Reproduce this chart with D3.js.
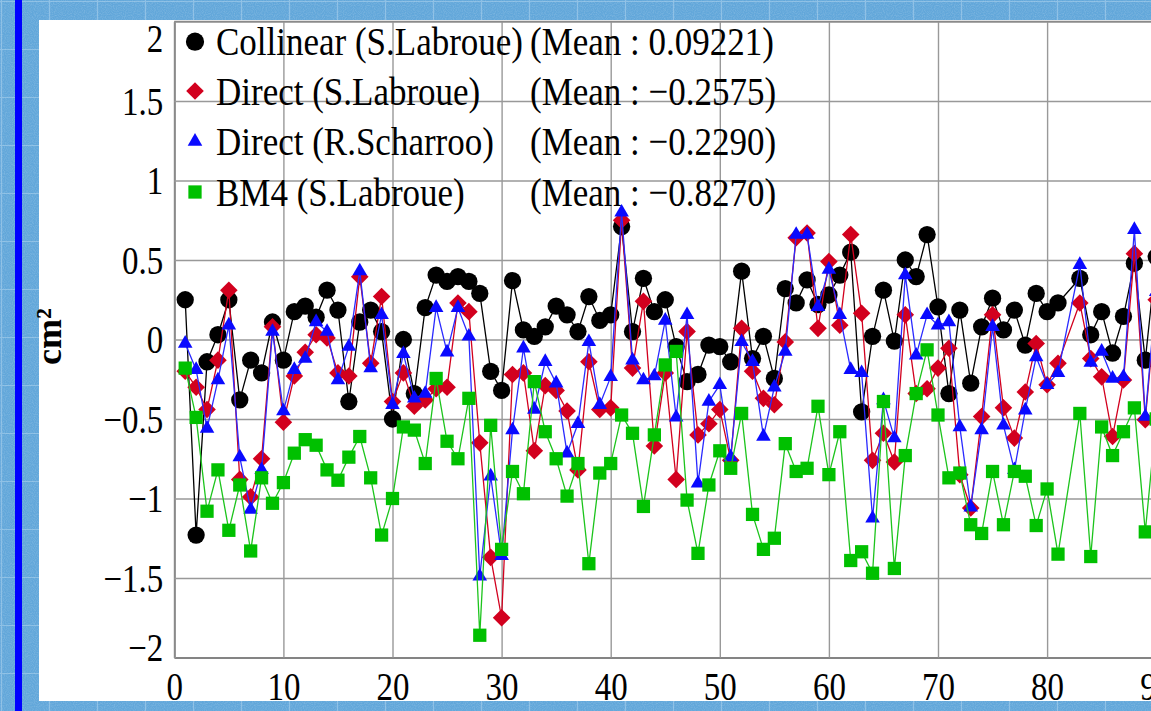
<!DOCTYPE html>
<html>
<head>
<meta charset="utf-8">
<script src="https://cdn.jsdelivr.net/npm/d3@7"></script>
<style>
    html, body { margin: 0; padding: 0; overflow: hidden; background: #62a6d8; }
    svg { display: block; }
</style>
</head>
<body>
<div id="vis"></div>
<script>
// cycle numbers (82 is missing in every series)
const days = [1,2,3,4,5,6,7,8,9,10,11,12,13,14,15,16,17,18,19,20,
    21,22,23,24,25,26,27,28,29,30,31,32,33,34,35,36,37,38,39,40,
    41,42,43,44,45,46,47,48,49,50,51,52,53,54,55,56,57,58,59,60,
    61,62,63,64,65,66,67,68,69,70,71,72,73,74,75,76,77,78,79,80,81,
    83,84,85,86,87,88,89,90];

const collinear = [0.25,-1.23,-0.14,0.03,0.25,-0.38,-0.13,-0.21,0.11,-0.13,
    0.175,0.21,0.14,0.31,0.185,-0.39,0.11,0.185,0.05,-0.5,
    0.0,-0.34,0.2,0.405,0.365,0.395,0.365,0.29,-0.2,-0.32,
    0.37,0.06,0.02,0.08,0.21,0.155,0.05,0.27,0.12,0.155,
    0.71,0.05,0.385,0.175,0.25,-0.045,-0.265,-0.22,-0.035,-0.045,
    -0.14,0.43,-0.12,0.02,-0.245,0.32,0.23,0.375,0.22,0.28,
    0.405,0.55,-0.455,0.02,0.31,-0.01,0.5,0.395,0.66,0.205,
    -0.34,0.185,-0.275,0.08,0.26,0.06,0.185,-0.035,0.29,0.175,0.23,
    0.385,0.03,0.175,-0.085,0.145,0.48,-0.13,0.52];

const directLabroue = [-0.2,-0.3,-0.44,-0.13,0.31,-0.88,-0.99,-0.75,0.08,-0.52,
    -0.23,-0.08,0.03,0.01,-0.21,-0.23,0.395,-0.15,0.27,-0.39,
    -0.21,-0.42,-0.38,-0.31,-0.3,0.23,0.175,-0.65,-1.37,-1.75,
    -0.22,-0.21,-0.7,-0.29,-0.32,-0.45,-0.82,-0.14,-0.44,-0.43,
    0.75,-0.18,0.24,-0.67,-0.21,-0.88,0.05,-0.6,-0.53,-0.44,
    -0.76,0.07,-0.2,-0.37,-0.41,-0.015,0.64,0.67,0.07,0.49,
    0.09,0.66,0.165,-0.76,-0.59,-0.77,0.155,-0.34,-0.31,-0.18,
    -0.055,-0.85,-1.06,-0.485,0.155,-0.43,-0.62,-0.33,-0.025,-0.285,-0.15,
    0.23,-0.12,-0.235,-0.61,-0.255,0.54,-0.505,0.25];

const directScharroo = [-0.025,-0.19,-0.56,-0.255,0.09,-0.74,-1.07,-0.82,0.05,-0.45,
    -0.19,-0.12,0.11,0.05,-0.255,-0.045,0.43,-0.18,0.155,-0.41,
    -0.09,-0.37,-0.34,0.2,-0.08,0.2,0.02,-1.49,-0.86,-1.36,
    -0.57,-0.055,-0.44,-0.14,-0.275,-0.715,-0.53,-0.015,-0.41,-0.235,
    0.8,-0.13,-0.255,-0.23,0.12,-0.49,0.155,-0.905,-0.39,-0.285,
    -0.74,-0.015,-0.14,-0.61,-0.3,-0.075,0.66,0.66,0.205,0.44,
    0.155,-0.19,-0.21,-1.125,-0.38,-0.62,0.405,-0.1,0.155,0.09,
    0.11,-0.55,-1.055,-0.57,0.08,-0.54,-0.82,-0.445,-0.11,-0.285,-0.21,
    0.47,-0.145,-0.075,-0.245,-0.235,0.69,-0.485,0.3];

const bm4 = [-0.18,-0.49,-1.08,-0.82,-1.2,-0.915,-1.33,-0.87,-1.03,-0.9,
    -0.715,-0.63,-0.665,-0.82,-0.885,-0.74,-0.61,-0.87,-1.23,-1.0,
    -0.55,-0.57,-0.78,-0.245,-0.64,-0.75,-0.37,-1.86,-0.54,-1.32,
    -0.83,-0.97,-0.265,-0.58,-0.75,-0.985,-0.78,-1.41,-0.84,-0.78,
    -0.475,-0.59,-1.05,-0.6,-0.16,-0.075,-1.01,-1.345,-0.915,-0.7,
    -0.81,-0.465,-1.1,-1.32,-1.25,-0.655,-0.83,-0.81,-0.42,-0.85,
    -0.58,-1.39,-1.335,-1.47,-0.39,-1.44,-0.73,-0.34,-0.065,-0.475,
    -0.87,-0.84,-1.165,-1.22,-0.83,-1.165,-0.83,-0.86,-1.17,-0.94,-1.35,
    -0.465,-1.365,-0.55,-0.73,-0.58,-0.43,-1.21,-0.5];

const seriesNames = ["Collinear (S.Labroue)", "Direct (S.Labroue)", "Direct (R.Scharroo)", "BM4 (S.Labroue)"];
const seriesMeans = ["(Mean : 0.09221)", "(Mean : \u22120.2575)", "(Mean : \u22120.2290)", "(Mean : \u22120.8270)"];
const yTicks = [-2, -1.5, -1, -0.5, 0, 0.5, 1, 1.5, 2];
const xTicks = [0, 10, 20, 30, 40, 50, 60, 70, 80, 90, 100];

(function () {
    const W = 1151, H = 711;
    const font = "'Liberation Serif', 'Times New Roman', serif";

    const svg = d3.select("#vis").append("svg")
        .attr("width", W)
        .attr("height", H);

    // speckled blue backdrop
    const defs = svg.append("defs");
    const noise = defs.append("filter").attr("id", "speckle")
        .attr("x", 0).attr("y", 0).attr("width", "100%").attr("height", "100%");
    noise.append("feTurbulence").attr("type", "fractalNoise")
        .attr("baseFrequency", 0.9).attr("numOctaves", 1).attr("seed", 3);
    noise.append("feColorMatrix").attr("type", "matrix")
        .attr("values", "0 0 0 0 1  0 0 0 0 1  0 0 0 0 1  0 0 0 0.9 -0.35");

    const pat = defs.append("pattern").attr("id", "tiles")
        .attr("patternUnits", "userSpaceOnUse")
        .attr("width", 48).attr("height", 48);
    pat.append("path").attr("d", "M0,1.5H48M1.5,0V48")
        .attr("stroke", "#b6d8f0").attr("stroke-width", 1.2).attr("opacity", 0.5);

    svg.append("rect").attr("width", W).attr("height", H).attr("fill", "#62a7da");
    svg.append("rect").attr("width", W).attr("height", H).attr("filter", "url(#speckle)").attr("opacity", 0.4);
    svg.append("rect").attr("width", W).attr("height", H).attr("fill", "url(#tiles)");

    // blue bar on the left
    svg.append("rect").attr("x", 15).attr("y", 0).attr("width", 7).attr("height", H).attr("fill", "#0000ff");

    // white page
    svg.append("rect").attr("x", 39).attr("y", 20).attr("width", W - 39).attr("height", 681).attr("fill", "#fff");

    const x = d3.scaleLinear().domain([0, 100]).range([174.3, 1265.3]);
    const y = d3.scaleLinear().domain([-2, 2]).range([657.5, 21.5]);
    const plotW = x.range()[1] - x.range()[0];
    const plotH = y.range()[0] - y.range()[1];

    // grid + x axis
    const xAxis = svg.append("g")
        .attr("transform", `translate(0,${y(-2)})`)
        .call(d3.axisBottom(x).tickValues(xTicks).tickSize(-plotH).tickSizeOuter(0).tickFormat(d3.format("d")));
    xAxis.select(".domain").attr("stroke", "#4a4a4a").attr("stroke-width", 2);
    xAxis.selectAll(".tick line").attr("stroke", "#999").attr("stroke-width", 1.4);
    xAxis.selectAll(".tick text")
        .attr("y", null).attr("dy", null)
        .attr("transform", "translate(0,42) scale(1,1.2)")
        .attr("fill", "#000")
        .style("font-family", font)
        .style("font-size", "33px");

    const yAxis = svg.append("g")
        .attr("transform", `translate(${x(0)},0)`)
        .call(d3.axisLeft(y).tickValues(yTicks).tickSize(-plotW).tickSizeOuter(0).tickFormat(d3.format("~g")));
    yAxis.select(".domain").attr("stroke", "#8a8a8a").attr("stroke-width", 2);
    yAxis.selectAll(".tick line").attr("stroke", "#999").attr("stroke-width", 1.4);
    yAxis.selectAll(".tick text")
        .attr("x", null).attr("dy", null)
        .attr("transform", d => {
            // labels at the ends are pulled inside the frame
            const c = Math.min(Math.max(y(d), 38), 647);
            return `translate(-11,${c - y(d) + 13.4}) scale(1,1.2)`;
        })
        .attr("fill", "#000")
        .style("font-family", font)
        .style("font-size", "33px");

    // top frame line
    svg.append("line")
        .attr("x1", x(0)).attr("x2", W)
        .attr("y1", y(2)).attr("y2", y(2))
        .attr("stroke", "#8a8a8a").attr("stroke-width", 1.6);

    // y title
    svg.append("text")
        .attr("transform", `translate(61,${y(0) - 3}) rotate(-90)`)
        .attr("text-anchor", "middle")
        .style("font-family", font)
        .style("font-size", "36px")
        .style("font-weight", "bold")
        .text("cm\u00b2");

    const series = [
        { name: seriesNames[0], mean: seriesMeans[0], values: collinear, color: "#000000", stroke: "#000000", shape: "circle" },
        { name: seriesNames[1], mean: seriesMeans[1], values: directLabroue, color: "#d2001e", stroke: "#d2001e", shape: "diamond" },
        { name: seriesNames[2], mean: seriesMeans[2], values: directScharroo, color: "#0a0aff", stroke: "#2a2aff", shape: "triangle" },
        { name: seriesNames[3], mean: seriesMeans[3], values: bm4, color: "#00c000", stroke: "#1cc41c", shape: "square" }
    ];

    const symbols = {
        circle: d3.symbol().type(d3.symbolCircle).size(235),
        diamond: d3.symbol().type(d3.symbolSquare).size(155),
        triangle: d3.symbol().type(d3.symbolTriangle).size(92),
        square: d3.symbol().type(d3.symbolSquare).size(176)
    };
    const rot = s => s === "diamond" ? " rotate(45)" : "";

    const line = d3.line()
        .x(d => x(d[0]))
        .y(d => y(d[1]));

    for (const s of series) {
        const pts = days.map((d, i) => [d, s.values[i]]);
        svg.append("path")
            .datum(pts)
            .attr("fill", "none")
            .attr("stroke", s.stroke)
            .attr("stroke-width", 1.3)
            .attr("d", line);

        svg.append("g").selectAll("path")
            .data(pts)
            .enter()
            .append("path")
            .attr("transform", d => `translate(${x(d[0])},${y(d[1])})${rot(s.shape)}`)
            .attr("d", symbols[s.shape])
            .attr("fill", s.color);
    }

    // legend
    const rowY = [41.7, 91, 141.5, 192];
    const legend = svg.append("g");
    series.forEach((s, i) => {
        const row = legend.append("g").attr("transform", `translate(0,${rowY[i]})`);
        row.append("path")
            .attr("transform", `translate(195,0)${rot(s.shape)}`)
            .attr("d", s.shape === "circle" ? d3.symbol().type(d3.symbolCircle).size(260)() : symbols[s.shape]())
            .attr("fill", s.color);
        row.append("text")
            .attr("transform", "translate(216,13.5) scale(1,1.15)")
            .style("font-family", font)
            .style("font-size", "35px")
            .text(s.name);
        row.append("text")
            .attr("transform", "translate(530,13.5) scale(1,1.15)")
            .style("font-family", font)
            .style("font-size", "35px")
            .text(s.mean);
    });
})();
</script>
</body>
</html>
